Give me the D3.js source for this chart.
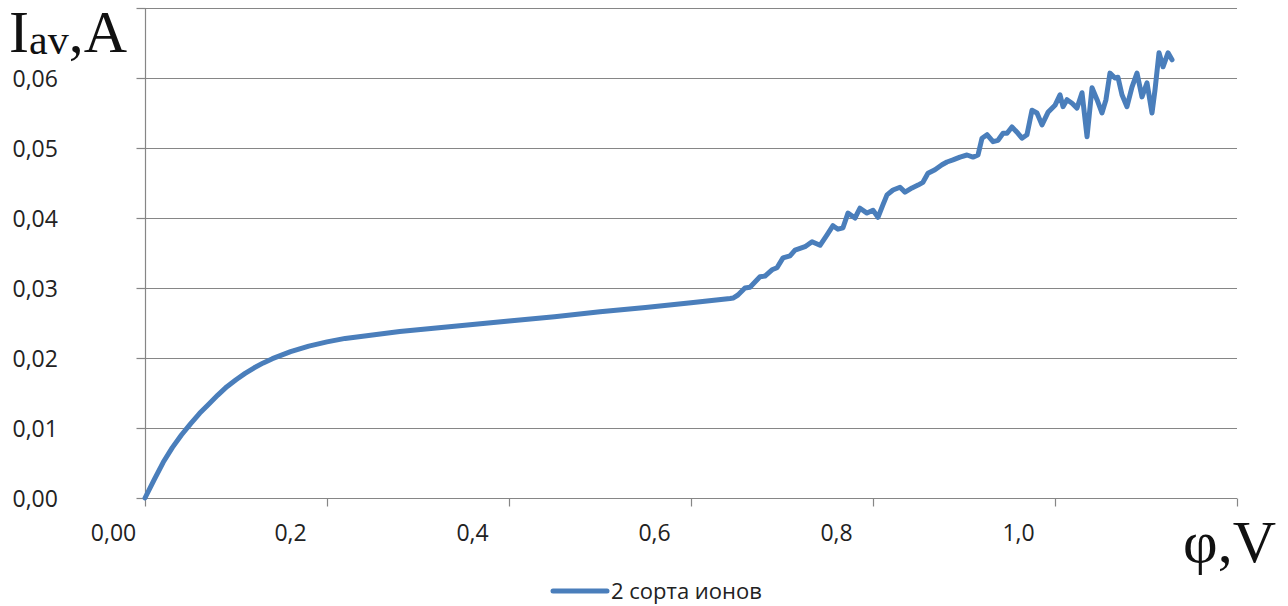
<!DOCTYPE html>
<html>
<head>
<meta charset="utf-8">
<script src="https://cdn.jsdelivr.net/npm/d3@7"></script>
<style>
  html, body { margin: 0; padding: 0; background: #fff; }
  svg { display: block; }
</style>
</head>
<body>
<svg id="chart" width="1288" height="606"></svg>
<script>
// ---- data ----
const seriesName = "2 сорта ионов";
const phi = [
  0, 0.01, 0.02, 0.03, 0.04, 0.05, 0.06, 0.07, 0.08, 0.09, 0.10, 0.11, 0.12, 0.13, 0.14, 0.15, 0.16, 0.17, 0.18,
  0.20, 0.22, 0.25, 0.28, 0.32, 0.36, 0.40, 0.45, 0.50, 0.55, 0.60, 0.643,
  0.6462, 0.6516, 0.6593, 0.6648, 0.6758, 0.6813, 0.6890, 0.6945, 0.7011, 0.7088, 0.7143, 0.7253, 0.7330, 0.7418, 0.7495,
  0.7560, 0.7615, 0.7670, 0.7725, 0.7802, 0.7857, 0.7934, 0.8000, 0.8055, 0.8110, 0.8154, 0.8220, 0.8297, 0.8352, 0.8429,
  0.8495, 0.8549, 0.8604, 0.8681, 0.8758, 0.8813, 0.8879, 0.8956, 0.9033, 0.9099, 0.9154, 0.9198, 0.9253, 0.9319, 0.9374,
  0.9429, 0.9473, 0.9527, 0.9593, 0.9637, 0.9692, 0.9747, 0.9802, 0.9857, 0.9923, 1.0000, 1.0055, 1.0088, 1.0132, 1.0187,
  1.0242, 1.0297, 1.0352, 1.0407, 1.0462, 1.0516, 1.0560, 1.0604, 1.0659, 1.0692, 1.0736, 1.0791, 1.0846, 1.0901, 1.0956,
  1.1011, 1.1066, 1.1099, 1.1143, 1.1187, 1.1242, 1.1286
];
const current = [
  0, 0.0026, 0.0051, 0.0072, 0.0090, 0.0106, 0.0121, 0.0134, 0.0147, 0.0159, 0.0169, 0.0178, 0.0186, 0.0193, 0.0199, 0.0204, 0.0209, 0.0213, 0.0217,
  0.0223, 0.0228, 0.0233, 0.0238, 0.0243, 0.0248, 0.0253, 0.0259, 0.0266, 0.0272, 0.0279, 0.0285,
  0.02857, 0.0290, 0.0300, 0.0301, 0.0316, 0.0317, 0.0326, 0.0329, 0.0343, 0.0346, 0.0354, 0.0359, 0.0366, 0.0361, 0.0376,
  0.0389, 0.0384, 0.0386, 0.0407, 0.0400, 0.0414, 0.0407, 0.0411, 0.0401, 0.0419, 0.0433, 0.0440, 0.0444, 0.0437, 0.0443,
  0.0447, 0.0451, 0.0464, 0.0469, 0.0476, 0.0480, 0.0483, 0.0487, 0.0490, 0.0487, 0.0490, 0.0514, 0.0519, 0.0509, 0.0511,
  0.0521, 0.0521, 0.0530, 0.0521, 0.0514, 0.0519, 0.0554, 0.0550, 0.0533, 0.0551, 0.0561, 0.0576, 0.0559, 0.0569, 0.0564,
  0.0557, 0.0579, 0.0516, 0.0586, 0.0569, 0.0550, 0.0569, 0.0607, 0.0600, 0.0601, 0.0576, 0.0559, 0.0587, 0.0607, 0.0573,
  0.0593, 0.0550, 0.0583, 0.0636, 0.0616, 0.0636, 0.0626
];
const xTicks = [0, 0.2, 0.4, 0.6, 0.8, 1.0, 1.2];
const xTickLabels = ["0,00", "0,2", "0,4", "0,6", "0,8", "1,0", ""];
const yTicks = [0, 0.01, 0.02, 0.03, 0.04, 0.05, 0.06, 0.07];
const yTickLabels = ["0,00", "0,01", "0,02", "0,03", "0,04", "0,05", "0,06", ""];

(function () {
// ---- layout ----
const svg = d3.select("#chart");
const mLeft = 145, mRight = 1237, mTop = 8, mBottom = 498;
const gridColor = "#868686";
const lineColor = "#4a7ebb";
const labelFont = "'Open Sans', sans-serif";

const x = d3.scaleLinear().domain([0, 1.2]).range([mLeft, mRight]);
const y = d3.scaleLinear().domain([0, 0.07]).range([mBottom, mTop]);

// gridlines
svg.append("g").selectAll("line").data(yTicks.slice(1)).join("line")
  .attr("x1", mLeft).attr("x2", mRight)
  .attr("y1", d => Math.round(y(d)) + 0.5).attr("y2", d => Math.round(y(d)) + 0.5)
  .attr("stroke", gridColor).attr("stroke-width", 1.2);

// y axis
const yAxis = d3.axisLeft(y).tickValues(yTicks).tickSize(9).tickPadding(0)
  .tickFormat((d, i) => yTickLabels[i]);
const gy = svg.append("g").attr("transform", `translate(${mLeft + 0.5},0)`).call(yAxis);
gy.select(".domain").attr("stroke", gridColor).attr("stroke-width", 1.2).attr("d", `M0,${mTop}V${mBottom}`);
gy.selectAll(".tick line").attr("stroke", gridColor).attr("stroke-width", 1.2);
gy.selectAll(".tick text").attr("x", -133).attr("text-anchor", "start")
  .attr("font-family", labelFont).attr("font-size", 23).attr("fill", "#222").attr("dy", "0.35em");

// x axis
const xAxis = d3.axisBottom(x).tickValues(xTicks).tickSize(8).tickPadding(0)
  .tickFormat((d, i) => xTickLabels[i]);
const gx = svg.append("g").attr("transform", `translate(0,${mBottom + 0.5})`).call(xAxis);
gx.select(".domain").attr("stroke", gridColor).attr("stroke-width", 1.2).attr("d", `M${mLeft},0H${mRight}`);
gx.selectAll(".tick line").attr("stroke", gridColor).attr("stroke-width", 1.2);
gx.selectAll(".tick text")
  .attr("x", (d, i) => i === 0 ? -32 : -37).attr("y", 42).attr("dy", 0)
  .attr("font-family", labelFont).attr("font-size", 23).attr("fill", "#222");

// the curve
const line = d3.line().x((d, i) => x(phi[i])).y((d, i) => y(current[i])).curve(d3.curveLinear);
svg.append("path").datum(current)
  .attr("d", line)
  .attr("fill", "none").attr("stroke", lineColor).attr("stroke-width", 5)
  .attr("stroke-linejoin", "round").attr("stroke-linecap", "round");

// axis titles
const yTitle = svg.append("text").attr("x", 9).attr("y", 52)
  .attr("font-family", "'Liberation Serif', 'Times New Roman', serif").attr("fill", "#111");
yTitle.append("tspan").attr("font-size", 60).text("I");
yTitle.append("tspan").attr("font-size", 42).attr("dy", 2).text("av");
yTitle.append("tspan").attr("font-size", 60).attr("dy", -2).text(",A");

svg.append("text").attr("x", 1276).attr("y", 562).attr("text-anchor", "end")
  .attr("font-family", "'Liberation Serif', 'Times New Roman', serif").attr("font-size", 60)
  .attr("fill", "#111").text("φ,V");

// legend
const lg = svg.append("g");
lg.append("line").attr("x1", 553).attr("x2", 607).attr("y1", 591).attr("y2", 591)
  .attr("stroke", lineColor).attr("stroke-width", 5).attr("stroke-linecap", "round");
lg.append("text").attr("x", 611).attr("y", 591).attr("dy", "0.35em")
  .attr("font-family", labelFont).attr("font-size", 22).attr("fill", "#222").text(seriesName);
})();
</script>
</body>
</html>
